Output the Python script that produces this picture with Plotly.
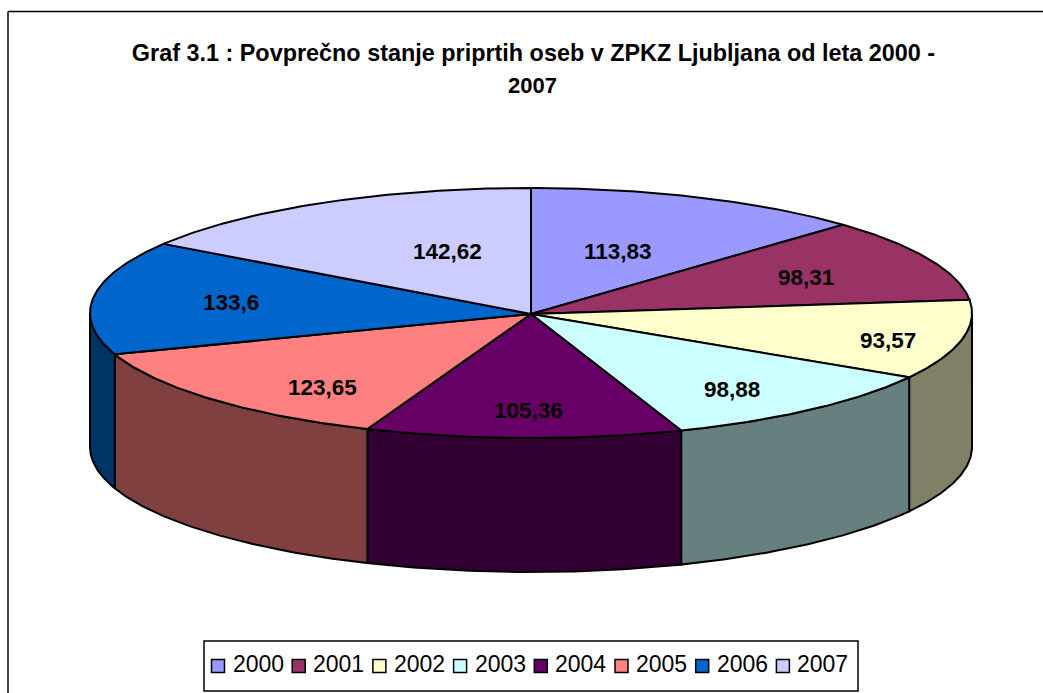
import numpy as np
import plotly.graph_objects as go

years = ["2000", "2001", "2002", "2003", "2004", "2005", "2006", "2007"]
values = [113.83, 98.31, 93.57, 98.88, 105.36, 123.65, 133.6, 142.62]
value_labels = ["113,83", "98,31", "93,57", "98,88", "105,36", "123,65", "133,6", "142,62"]
top_colors = ["#9999FF", "#993366", "#FFFFCC", "#CCFFFF", "#660066", "#FF8080", "#0066CC", "#CCCCFF"]
side_colors = ["#4C4C80", "#4C1933", "#808066", "#668080", "#330033", "#804040", "#003366", "#666680"]
title_line1 = "Graf 3.1 : Povprečno stanje priprtih oseb v ZPKZ Ljubljana od leta 2000 -"
title_line2 = "2007"

# label placement as fractions of the ellipse radii along each slice's mid-angle
label_fx = [0.515, 0.69, 0.83, 0.717, 0.3, 0.654, 0.686, 0.40]
label_fy = [0.537, 0.67, 1.0, 0.787, 0.776, 0.855, 0.71, 0.563]

CX, CY, RX, RY, DEPTH = 531, 313, 441, 125, 134
LEGEND_START, LEGEND_PITCH, LEGEND_Y = 218, 80.7, 666


def ex(a):
    return CX + RX * np.sin(np.radians(a))


def ey(a, drop=0.0):
    return CY - RY * np.cos(np.radians(a)) + drop


total = sum(values)
edges = np.concatenate([[0], np.cumsum(values) / total * 360])

fig = go.Figure()
outline = dict(color="black", width=2)

# visible rim of the pie (lower half of the ellipse only)
for i in range(len(values)):
    a0, a1 = max(edges[i], 90), min(edges[i + 1], 270)
    if a1 <= a0:
        continue
    t = np.linspace(a0, a1, 80)
    xs = np.concatenate([ex(t), ex(t[::-1]), [ex(t[0])]])
    ys = np.concatenate([ey(t), ey(t[::-1], DEPTH), [ey(t[0])]])
    fig.add_trace(go.Scatter(x=xs, y=ys, mode="lines", fill="toself", fillcolor=side_colors[i],
                             line=outline, showlegend=False, hoverinfo="skip"))

# top faces
for i in range(len(values)):
    t = np.linspace(edges[i], edges[i + 1], 80)
    xs = np.concatenate([[CX], ex(t), [CX]])
    ys = np.concatenate([[CY + 1], ey(t), [CY + 1]])
    fig.add_trace(go.Scatter(x=xs, y=ys, mode="lines", fill="toself", fillcolor=top_colors[i],
                             line=outline, showlegend=False, name=years[i],
                             text=f"{years[i]}: {value_labels[i]}", hoverinfo="text"))

font_family = "Liberation Sans, Arial, sans-serif"

# legend row
for i, y in enumerate(years):
    mx = LEGEND_START + LEGEND_PITCH * i
    fig.add_trace(go.Scatter(x=[mx], y=[LEGEND_Y], mode="markers", name=y, showlegend=False,
                             hoverinfo="name",
                             marker=dict(symbol="square", size=13, color=top_colors[i],
                                         line=dict(color="black", width=1.5))))

annotations = [
    dict(x=532, y=85, text=f"<b>{title_line2}</b>", showarrow=False, xanchor="center", yanchor="middle",
         font=dict(family=font_family, size=22, color="black"))
]
for i, y in enumerate(years):
    annotations.append(dict(x=LEGEND_START + LEGEND_PITCH * i + 14.5, y=LEGEND_Y - 2, text=y, showarrow=False,
                            xanchor="left", yanchor="middle",
                            font=dict(family=font_family, size=23, color="black"),
                            borderpad=0, borderwidth=0))
for i, lab in enumerate(value_labels):
    mid = (edges[i] + edges[i + 1]) / 2
    lx = CX + RX * label_fx[i] * np.sin(np.radians(mid))
    ly = CY + 1 - RY * label_fy[i] * np.cos(np.radians(mid))
    annotations.append(dict(x=lx, y=ly, text=f"<b>{lab}</b>", showarrow=False,
                            font=dict(family=font_family, size=22.5, color="black")))

border = dict(color="black", width=1.5)
fig.update_layout(
    width=1043, height=693, margin=dict(l=0, r=0, t=0, b=0),
    paper_bgcolor="white", plot_bgcolor="white", showlegend=False,
    title=dict(text=f"<b>{title_line1}</b>", x=533.5 / 1043, xanchor="center", y=1 - 53 / 693, yanchor="middle",
               font=dict(family=font_family, size=23.4, color="black")),
    xaxis=dict(range=[0, 1043], visible=False, fixedrange=True),
    yaxis=dict(range=[693, 0], visible=False, fixedrange=True),
    annotations=annotations,
    shapes=[
        dict(type="line", x0=8, x1=8, y0=11.5, y1=693, line=border),
        dict(type="line", x0=8, x1=1043, y0=11.5, y1=11.5, line=border),
        dict(type="rect", x0=204, x1=858, y0=641, y1=691, line=border, fillcolor="white", layer="below"),
    ],
)

fig.write_html("out.html", post_script="document.body.style.margin='0';",
               config={"displayModeBar": False})
